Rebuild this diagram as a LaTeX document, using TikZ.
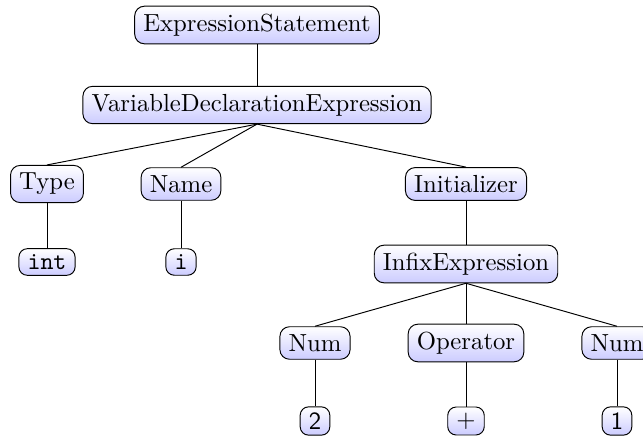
\documentclass[tikz,border=0pt]{standalone}
\usetikzlibrary{shadings}
\begin{document}
\begin{tikzpicture}[x=0.41667pt,y=-0.41667pt,
  astnode/.style={draw, rounded corners=4pt, top color=white, bottom color=blue!20,
    inner xsep=3.6pt, inner ysep=3.2pt, font=\fontsize{10.3}{12}\selectfont\rmfamily},
  leafnode/.style={astnode, rounded corners=3.5pt, inner ysep=2.4pt},
  treeedge/.style={draw, line width=0.4pt}]
\useasboundingbox (0,0) rectangle (643,440);
% level 0 and 1
\node[astnode] (stmt) at (257,25) {ExpressionStatement};
\node[astnode] (decl) at (257,105) {VariableDeclarationExpression};
% level 2
\node[astnode] (type) at (47,184) {Type};
\node[astnode] (name) at (181,184) {Name};
\node[astnode] (init) at (466,184) {Initializer};
% level 3
\node[leafnode] (int) at (47,262) {\texttt{int}};
\node[leafnode] (ivar) at (181,262) {\texttt{i}};
\node[astnode] (infix) at (466,264) {InfixExpression};
% level 4
\node[astnode] (numa) at (315,343) {Num};
\node[astnode] (op) at (466,343) {Operator};
\node[astnode] (numb) at (617,343) {Num};
% level 5
\node[leafnode] (two) at (315,421) {\textsf{2}};
\node[leafnode] (plus) at (466,421) {\textsf{+}};
\node[leafnode] (one) at (617,421) {\textsf{1}};
% connectors
\draw[treeedge] (stmt.south) -- (decl.north);
\draw[treeedge] (decl.south) -- (type.north);
\draw[treeedge] (decl.south) -- (name.north);
\draw[treeedge] (decl.south) -- (init.north);
\draw[treeedge] (type.south) -- (int.north);
\draw[treeedge] (name.south) -- (ivar.north);
\draw[treeedge] (init.south) -- (infix.north);
\draw[treeedge] (infix.south) -- (numa.north);
\draw[treeedge] (infix.south) -- (op.north);
\draw[treeedge] (infix.south) -- (numb.north);
\draw[treeedge] (numa.south) -- (two.north);
\draw[treeedge] (op.south) -- (plus.north);
\draw[treeedge] (numb.south) -- (one.north);
\end{tikzpicture}
\end{document}
